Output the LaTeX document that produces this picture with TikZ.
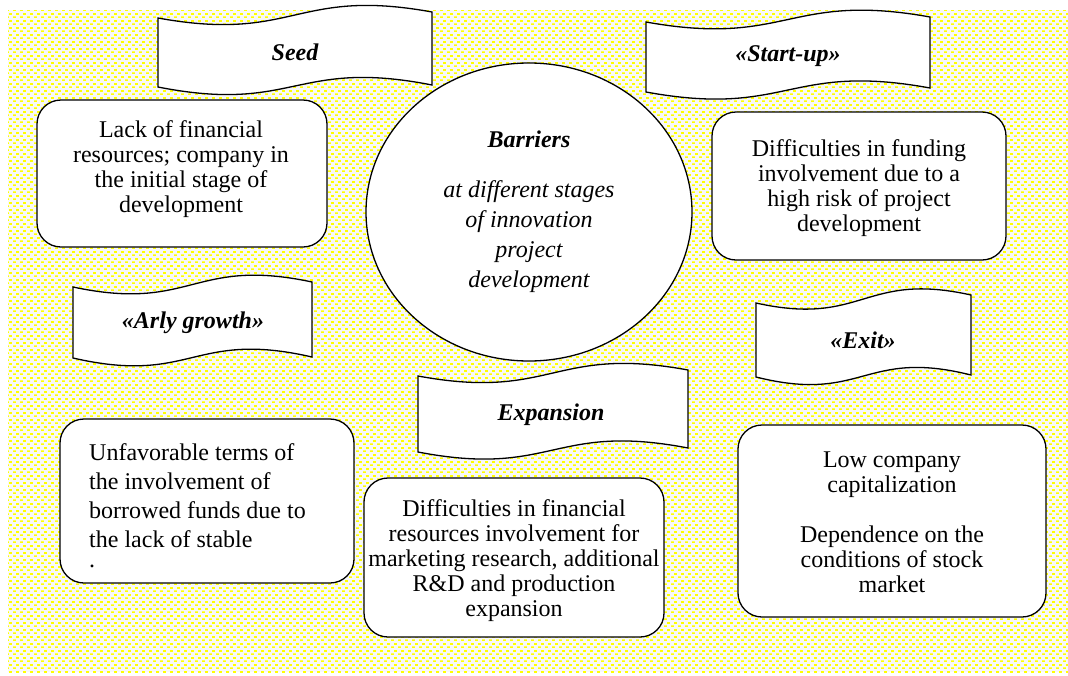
\documentclass[tikz,border=0pt]{standalone}
\usepackage{fontspec}
\setmainfont{Liberation Serif}
\usetikzlibrary{patterns,shapes.geometric}
\pgfdeclarepatternformonly{ydash}{\pgfqpoint{0pt}{0pt}}{\pgfqpoint{6.6pt}{6.6pt}}{\pgfqpoint{6.6pt}{6.6pt}}{%
  \pgfpathrectangle{\pgfqpoint{0pt}{0pt}}{\pgfqpoint{3pt}{1.8pt}}%
  \pgfpathrectangle{\pgfqpoint{3.3pt}{3.3pt}}{\pgfqpoint{3pt}{1.8pt}}%
  \pgfusepath{fill}}
\definecolor{bggray}{HTML}{F8F8F8}
\definecolor{dashyellow}{HTML}{FFFF00}
\newcommand\wavebanner[6]{% L TL R TR BL BR
  \draw[banner] (#1,#2) .. controls ({(#1+#3)/2},{(#2+#4)/2+28}) and ({(#1+#3)/2},{(#2+#4)/2-28}) .. (#3,#4)
    -- (#3,#6) .. controls ({(#1+#3)/2},{(#5+#6)/2-28}) and ({(#1+#3)/2},{(#5+#6)/2+28}) .. (#1,#5) -- cycle;}
\tikzset{
  banner/.style={draw=black, line width=1.3pt, fill=white},
  roundbox/.style={draw=black, line width=1.3pt, fill=white, rounded corners=24pt, inner sep=0pt},
  txt/.style={font=\fontsize{24}{25}\selectfont, align=center, inner sep=0pt, anchor=base},
  title/.style={font=\fontsize{24}{25}\selectfont\bfseries\itshape, inner sep=0pt, anchor=base},
}
\begin{document}
\begin{tikzpicture}[x=1pt, y=-1pt]
\useasboundingbox (0,0) rectangle (1068,675);
\fill[bggray] (8,10) rectangle (1068,672);
\fill[pattern=ydash, pattern color=dashyellow] (8,10) rectangle (1068,672);

% banners
\wavebanner{158}{18}{432}{12}{87}{85}
\node[title] (tseed) at (295,60) {Seed};
\wavebanner{646}{22}{930}{17}{92}{88}
\node[title] (tstart) at (788,61) {«Start-up»};
\wavebanner{73}{287}{312}{282}{358}{357}
\node[title] (tarly) at (193,328) {«Arly growth»};
\wavebanner{756}{303}{971}{295}{377}{375}
\node[title] (texit) at (863,348) {«Exit»};
\wavebanner{418}{376}{688}{370}{452}{448}
\node[title] (texp) at (551,420) {Expansion};

% ellipse
\node[draw=black, line width=1.3pt, fill=white, ellipse, minimum width=326pt, minimum height=298pt, inner sep=0pt] (ell) at (529,212) {};
\node[title] (tbar) at (529,147) {Barriers};
\node[txt, font=\fontsize{24}{30}\selectfont\itshape] (tbar2) at (529,287) {at different stages\\of innovation\\project\\development};

% boxes
\node[roundbox, minimum width=290pt, minimum height=147pt] (b1) at (182,173.5) {};
\node[txt] (t1) at (181,212) {Lack of financial\\resources; company in\\the initial stage of\\development};

\node[roundbox, minimum width=294pt, minimum height=148pt] (b2) at (859,186) {};
\node[txt] (t2) at (859,231) {Difficulties in funding\\involvement due to a\\high risk of project\\development};

\node[roundbox, minimum width=294pt, minimum height=164pt] (b3) at (207,501) {};
\node[txt, align=left, anchor=base west, font=\fontsize{24}{29}\selectfont] (t3) at (89,547) {Unfavorable terms of\\the involvement of\\borrowed funds due to\\the lack of stable};
\node[inner sep=0pt, font=\fontsize{24}{25}\selectfont, anchor=base] (dot) at (92,567) {.};

\node[roundbox, minimum width=300pt, minimum height=159pt] (b4) at (514,557.5) {};
\node[txt] (t4) at (514,616) {Difficulties in financial\\resources involvement for\\marketing research, additional\\R\&D and production\\expansion};

\node[roundbox, minimum width=308pt, minimum height=192pt] (b5) at (892,521) {};
\node[txt] (t5) at (892,592) {Low company\\capitalization\\[25pt]Dependence on the\\conditions of stock\\market};
\end{tikzpicture}
\end{document}
